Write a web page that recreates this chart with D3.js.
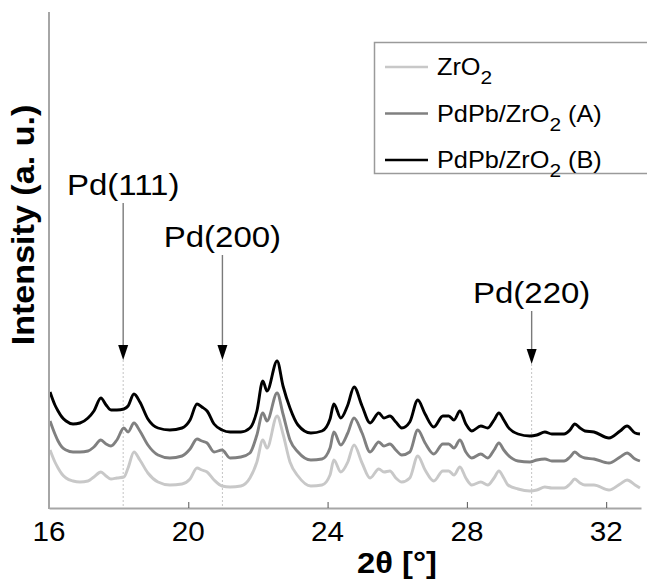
<!DOCTYPE html>
<html>
<head>
<meta charset="utf-8">
<script src="https://cdn.jsdelivr.net/npm/d3@7"></script>
<style>
  html, body { margin: 0; padding: 0; background: #fff; }
  svg { display: block; font-family: "Liberation Sans", Arial, Helvetica, sans-serif; }
</style>
</head>
<body>
<svg id="chart" width="647" height="581"></svg>
<script>
// 2θ positions (degrees) shared by all three patterns
const twoTheta = [
  16.03, 16.17, 16.26, 16.37, 16.49, 16.69, 16.89, 17.12, 17.29, 17.49,
  17.64, 17.78, 17.95, 18.15, 18.27, 18.44, 18.61, 18.84, 19.13, 19.47,
  19.82, 20.05, 20.25, 20.39, 20.54, 20.74, 20.97, 21.20, 21.51, 21.77,
  21.97, 22.14, 22.26, 22.55, 22.72, 22.92, 23.15, 23.52, 23.84, 24.07,
  24.18, 24.38, 24.58, 24.76, 24.99, 25.22, 25.47, 25.62, 25.79, 25.96,
  26.13, 26.36, 26.59, 26.80, 27.05, 27.31, 27.48, 27.63, 27.80, 27.97,
  28.14, 28.40, 28.60, 28.78, 28.92, 29.06, 29.18, 29.47, 29.81, 30.01,
  30.24, 30.44, 30.79, 30.96, 31.10, 31.25, 31.39, 31.65, 32.08, 32.40,
  32.60, 32.83, 32.97
];

// Stacked intensities (a. u.), each pattern offset above the previous one
const intensityZrO2 = [
  58, 46, 40, 34, 30, 27, 26, 27, 31, 36,
  32, 29, 30, 31, 40, 56, 48, 35, 26, 23,
  24, 29, 40, 38, 36, 28, 22, 21, 22, 30,
  46, 68, 60, 92, 74, 46, 32, 22, 23, 33,
  48, 36, 46, 63, 45, 30, 39, 36, 37, 30,
  26, 30, 52, 38, 27, 37, 37, 33, 41, 30,
  23, 26, 23, 30, 37, 30, 23, 19, 17, 18,
  21, 20, 20, 24, 29, 25, 23, 23, 18, 24,
  28, 23, 20
];

const intensityA = [
  87, 74, 67, 61, 58, 56, 56, 57, 61, 68,
  64, 62, 68, 80, 76, 85, 77, 63, 53, 50,
  52, 59, 69, 67, 65, 56, 58, 50, 51, 55,
  73, 95, 87, 115, 94, 68, 56, 48, 49, 60,
  76, 63, 75, 90, 75, 56, 66, 62, 64, 58,
  53, 56, 78, 65, 54, 64, 64, 60, 68, 56,
  50, 54, 50, 58, 65, 58, 53, 47, 46, 48,
  49, 47, 47, 51, 56, 52, 50, 49, 45, 51,
  55, 49, 47
];

const intensityB = [
  116, 103, 97, 91, 87, 84, 85, 90, 97, 110,
  103, 98, 98, 99, 102, 114, 106, 89, 80, 78,
  80, 88, 104, 101, 97, 84, 78, 76, 76, 80,
  97, 127, 117, 147, 122, 100, 83, 75, 77, 89,
  104, 90, 103, 121, 102, 85, 95, 90, 92, 86,
  80, 86, 108, 94, 81, 92, 92, 88, 97, 84,
  77, 82, 80, 88, 95, 88, 81, 74, 72, 73,
  76, 74, 74, 78, 84, 80, 77, 76, 70, 77,
  82, 75, 74
];

const seriesLabels = ["ZrO|2|", "PdPb/ZrO|2| (A)", "PdPb/ZrO|2| (B)"];
const seriesColors = ["#c8c8c8", "#808080", "#000000"];

const xTicks = [16, 20, 24, 28, 32];

// Pd reflections: position, label, label height and arrow tip height (a. u.)
const peakPositions = [18.13, 20.98, 29.86];
const peakLabels = ["Pd(111)", "Pd(200)", "Pd(220)"];
const peakLabelLevel = [313, 261, 205];
const peakArrowTip = [148, 148, 144];

const svg = d3.select("#chart");
const margin = { left: 49, right: 6, top: 12, bottom: 73 };
const W = 647, H = 581;
const wide = 1.1; // horizontal glyph stretch used for all labels

const x = d3.scaleLinear().domain([16, 33]).range([margin.left, W - margin.right]);
const y = d3.scaleLinear().domain([0, 496]).range([H - margin.bottom, margin.top]);

// Draws a label whose glyphs are widened about its anchor point
function label(parent, px, py, str, size, opts = {}) {
  const g = parent.append("g")
    .attr("transform", `translate(${px},${py})${opts.rotate ? ` rotate(${opts.rotate})` : ""} scale(${opts.sx || wide},1)`);
  return g.append("text")
    .attr("text-anchor", opts.anchor || "middle")
    .style("font-size", size + "px")
    .style("font-weight", opts.bold ? "bold" : "normal")
    .text(str);
}

// Pd reference lines (dotted), under the patterns
const ann = svg.append("g");
peakPositions.forEach((p, i) => {
  ann.append("line")
    .attr("x1", x(p)).attr("x2", x(p))
    .attr("y1", y(peakArrowTip[i])).attr("y2", y(0))
    .attr("stroke", "#c4c4c4").attr("stroke-width", 1)
    .attr("stroke-dasharray", "2,2");
});

// Patterns
const series = [intensityZrO2, intensityA, intensityB];
const line = d3.line()
  .x((d, i) => x(twoTheta[i]))
  .y(d => y(d))
  .curve(d3.curveMonotoneX);

series.forEach((s, k) => {
  svg.append("path")
    .datum(s)
    .attr("d", line)
    .attr("fill", "none")
    .attr("stroke", seriesColors[k])
    .attr("stroke-width", 2.9)
    .attr("stroke-linejoin", "round");
});

// Axes
const axisColor = "#a6a6a6";
const xAxis = d3.axisBottom(x)
  .tickValues(xTicks)
  .tickFormat("")
  .tickSizeInner(-6)
  .tickSizeOuter(0);

const gx = svg.append("g")
  .attr("transform", `translate(0,${y(0)})`)
  .call(xAxis);
gx.select(".domain").attr("stroke", axisColor).attr("stroke-width", 2);
gx.selectAll(".tick line").attr("stroke", "#555").attr("stroke-width", 1);

xTicks.forEach(t => label(svg, x(t), 541, d3.format("d")(t), 28, { sx: 1.06 }));

svg.append("line")
  .attr("x1", x(16)).attr("x2", x(16))
  .attr("y1", y(0) + 1).attr("y2", y(496))
  .attr("stroke", axisColor).attr("stroke-width", 2);

// Axis titles
label(svg, 397, 573, "2θ [°]", 29, { bold: true, sx: 1.13 });
label(svg, 34, 225, "Intensity (a. u.)", 31, { bold: true, rotate: -90, sx: 1.1 });

// Peak labels with arrows
peakPositions.forEach((p, i) => {
  const px = x(p);
  const base = y(peakLabelLevel[i]);
  const tip = y(peakArrowTip[i]);
  label(ann, px, base, peakLabels[i], 30);
  svg.append("line")
    .attr("x1", px).attr("x2", px)
    .attr("y1", base + 8).attr("y2", tip - 12)
    .attr("stroke", "#7a7a7a").attr("stroke-width", 1.4);
  svg.append("path")
    .attr("d", `M${px - 5},${tip - 15} L${px + 5},${tip - 15} L${px},${tip} Z`)
    .attr("fill", "#000");
});

// Legend
const lg = svg.append("g");
lg.append("rect")
  .attr("x", 374.5).attr("y", 42.5)
  .attr("width", 300).attr("height", 131)
  .attr("fill", "#fff").attr("stroke", "#9a9a9a").attr("stroke-width", 1.5);

seriesLabels.forEach((lab, k) => {
  const ly = 67 + k * 46.5;
  lg.append("line")
    .attr("x1", 385).attr("x2", 428)
    .attr("y1", ly).attr("y2", ly)
    .attr("stroke", seriesColors[k]).attr("stroke-width", 2.6);
  const t = label(lg, 437, ly + 8, "", 23, { anchor: "start" });
  const parts = lab.split("|");
  t.append("tspan").text(parts[0]);
  t.append("tspan").attr("dy", 9).style("font-size", "19px").text(parts[1]);
  if (parts[2]) t.append("tspan").attr("dy", -9).text(parts[2]);
});
</script>
</body>
</html>
